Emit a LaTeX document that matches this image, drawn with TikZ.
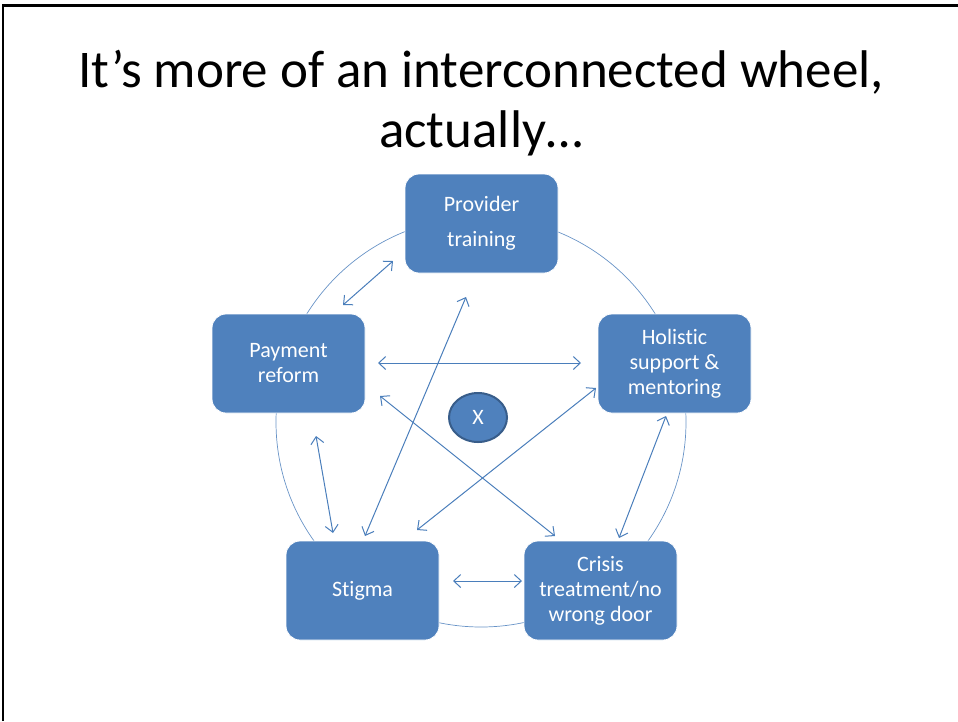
\documentclass[tikz,border=0pt]{standalone}
\usepackage{fontspec}
\setmainfont{Carlito}[Ligatures=NoCommon]
\usetikzlibrary{arrows.meta,shapes.geometric}
\definecolor{boxblue}{HTML}{4F81BD}
\definecolor{boxedge}{HTML}{385D8A}
\definecolor{linkblue}{HTML}{4A7EBB}
\tikzset{
  topic/.style={draw=white, line width=0.8pt, fill=boxblue, rounded corners=14pt,
    minimum width=153pt, minimum height=99pt, inner sep=0pt, text=white, align=center,
    font=\fontsize{22}{25}\selectfont},
  hub/.style={ellipse, draw=boxedge, line width=2pt, fill=boxblue, minimum width=58pt,
    minimum height=49pt, inner sep=0pt, text=white, font=\fontsize{22}{25}\selectfont},
  link/.style={draw=linkblue, line width=1pt, {Straight Barb[length=7pt,width=13pt]}-{Straight Barb[length=7pt,width=13pt]}},
  rim/.style={draw=boxblue!85, line width=0.7pt},
  frameline/.style={line width=2.7pt, black}
}
\begin{document}
\begin{tikzpicture}[x=1pt, y=-1pt]
  \useasboundingbox (0,0) rectangle (958,721);
  % slide frame (top and left edges)
  \draw[frameline] (3,721) -- (3,5.3) -- (958,5.3);
  % title
  \node (title) at (481,103) [align=center, font=\fontsize{53}{60}\selectfont] {It’s more of an interconnected wheel,\\actually…};
  % the wheel behind the boxes
  \draw[rim] (481,422) circle [radius=205];
  % topics
  \node[topic] (prov) at (481.5,223.5) {Provider\\[10pt]training};
  \node[topic] (pay)  at (288.5,363.5) {Payment\\reform};
  \node[topic] (hol)  at (674.5,363.5) {Holistic\\support \&\\mentoring};
  \node[topic] (stig) at (362.5,590.5) {Stigma};
  \node[topic] (cris) at (600.5,590.5) {Crisis\\treatment/no\\wrong door};
  \node[hub] (x) at (478,417.5) {X};
  % arrow end points
  \coordinate (provA) at (393,261);
  \coordinate (payA)  at (343,305);
  \coordinate (payB)  at (378,363);
  \coordinate (holB)  at (581,363);
  \coordinate (payC)  at (316,436);
  \coordinate (stigC) at (333,533);
  \coordinate (holD)  at (666,416);
  \coordinate (crisD) at (619,538);
  \coordinate (stigE) at (453,581);
  \coordinate (crisE) at (522,581);
  \coordinate (provF) at (466,297);
  \coordinate (stigF) at (365,536);
  \coordinate (payG)  at (380,396);
  \coordinate (crisG) at (555,536);
  \coordinate (holH)  at (596,388);
  \coordinate (stigH) at (417,530);
  % links between topics
  \draw[link] (provA) -- (payA);
  \draw[link] (payB) -- (holB);
  \draw[link] (payC) -- (stigC);
  \draw[link] (holD) -- (crisD);
  \draw[link] (stigE) -- (crisE);
  \draw[link] (provF) -- (stigF);
  \draw[link] (payG) -- (crisG);
  \draw[link] (holH) -- (stigH);
\end{tikzpicture}
\end{document}
